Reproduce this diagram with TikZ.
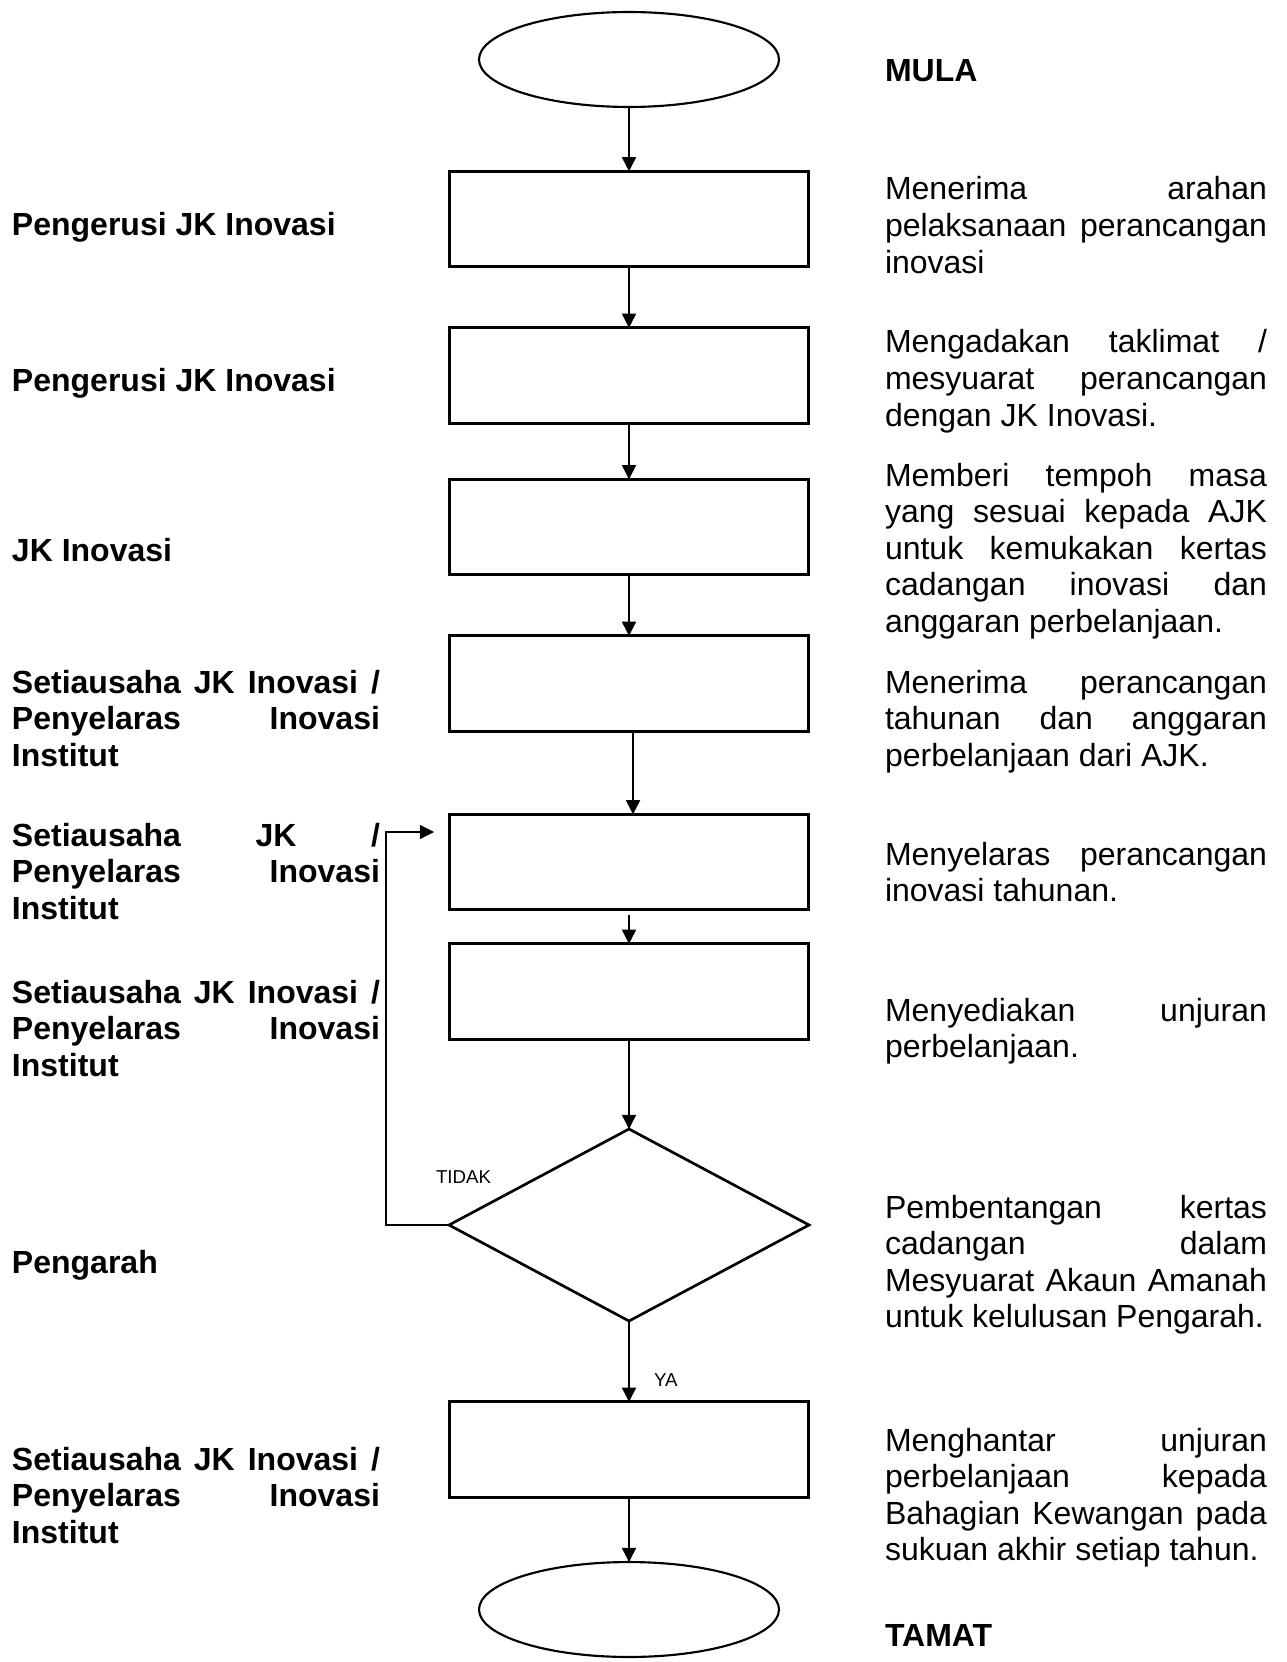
\documentclass[tikz,border=0pt]{standalone}
\usepackage{fontspec}
\setmainfont{Liberation Sans}
\usetikzlibrary{arrows.meta,shapes.geometric}
\tolerance=10000
\hbadness=10000
\hyphenpenalty=10000
\exhyphenpenalty=10000
\begin{document}
\begin{tikzpicture}[x=0.375pt,y=-0.375pt,
  every node/.style={inner sep=0pt,outer sep=0pt},
  stepbox/.style={draw,rectangle,line width=1.1pt,minimum width=134.6pt,minimum height=35.8pt},
  terminal/.style={draw,ellipse,line width=0.8pt,minimum width=112.5pt,minimum height=35.6pt},
  decision/.style={draw,diamond,line width=1pt,minimum width=135pt,minimum height=72pt},
  conn/.style={line width=0.5pt,-{Triangle[length=5.3pt,width=5.3pt]}},
  roletext/.style={anchor=base west,text width=138pt,align=justify,
    font=\fontsize{12pt}{13.7pt}\selectfont\bfseries},
  desctext/.style={anchor=base west,text width=143.25pt,align=justify,
    font=\fontsize{12pt}{13.7pt}\selectfont},
  marktext/.style={anchor=base west,font=\fontsize{12pt}{13.7pt}\selectfont\bfseries},
  branchtext/.style={anchor=base west,font=\fontsize{7pt}{8pt}\selectfont}]
\useasboundingbox (0,0) rectangle (1287,1662);

% flow shapes
\node[terminal] (start) at (629,59.5) {};
\node[stepbox] (b1) at (629,219) {};
\node[stepbox] (b2) at (629,375.5) {};
\node[stepbox] (b3) at (629,527) {};
\node[stepbox] (b4) at (629,683.5) {};
\node[stepbox] (b5) at (629,862) {};
\node[stepbox] (b6) at (629,991.5) {};
\node[decision] (dec) at (629,1225) {};
\node[stepbox] (b7) at (629,1449.5) {};
\node[terminal] (stop) at (629,1609.5) {};

% connectors
\draw[conn] (start.south) -- (b1.north);
\draw[conn] (b1.south) -- (b2.north);
\draw[conn] (b2.south) -- (b3.north);
\draw[conn] (b3.south) -- (b4.north);
\draw[conn] ([xshift=1.5pt]b4.south) -- ([xshift=1.5pt]b5.north);
\draw[conn] ([yshift=-2pt]b5.south) -- (b6.north);
\draw[conn] (b6.south) -- (dec.north);
\draw[conn] (dec.south) -- (b7.north);
\draw[conn] (b7.south) -- (stop.north);

% rejection loop back to the coordination step
\coordinate (loopturn) at (386,1225);
\coordinate (loopend) at (434,832);
\draw[conn] (dec.west) -- (loopturn) |- (loopend);

\node[branchtext] (tidak) at (436,1183) {TIDAK};
\node[branchtext] (ya) at (654,1386) {YA};

% responsible parties
\node[roletext] (r1) at (12,236) {Pengerusi JK Inovasi};
\node[roletext] (r2) at (12,391) {Pengerusi JK Inovasi};
\node[roletext] (r3) at (12,561) {JK Inovasi};
\node[roletext] (r4) at (12,693) {Setiausaha JK Inovasi /\linebreak Penyelaras Inovasi\linebreak Institut};
\node[roletext] (r5) at (12,846) {Setiausaha JK /\linebreak Penyelaras Inovasi\linebreak Institut};
\node[roletext] (r6) at (12,1003) {Setiausaha JK Inovasi /\linebreak Penyelaras Inovasi\linebreak Institut};
\node[roletext] (r7) at (12,1273) {Pengarah};
\node[roletext] (r8) at (12,1470) {Setiausaha JK Inovasi /\linebreak Penyelaras Inovasi\linebreak Institut};

% step descriptions
\node[marktext] (mula) at (885,82) {MULA};
\node[desctext] (t1) at (885,200) {Menerima arahan\linebreak pelaksanaan perancangan\linebreak inovasi};
\node[desctext] (t2) at (885,353) {Mengadakan taklimat /\linebreak mesyuarat perancangan\linebreak dengan JK Inovasi.};
\node[desctext] (t3) at (885,486) {Memberi tempoh masa\linebreak yang sesuai kepada AJK\linebreak untuk kemukakan kertas\linebreak cadangan inovasi dan\linebreak anggaran perbelanjaan.};
\node[desctext] (t4) at (885,693) {Menerima perancangan\linebreak tahunan dan anggaran\linebreak perbelanjaan dari AJK.};
\node[desctext] (t5) at (885,865) {Menyelaras perancangan\linebreak inovasi tahunan.};
\node[desctext] (t6) at (885,1021) {Menyediakan unjuran\linebreak perbelanjaan.};
\node[desctext] (t7) at (885,1218) {Pembentangan kertas\linebreak cadangan dalam\linebreak Mesyuarat Akaun Amanah\linebreak untuk kelulusan Pengarah.};
\node[desctext] (t8) at (885,1451) {Menghantar unjuran\linebreak perbelanjaan kepada\linebreak Bahagian Kewangan pada\linebreak sukuan akhir setiap tahun.};
\node[marktext] (tamat) at (885,1646) {TAMAT};
\end{tikzpicture}
\end{document}
